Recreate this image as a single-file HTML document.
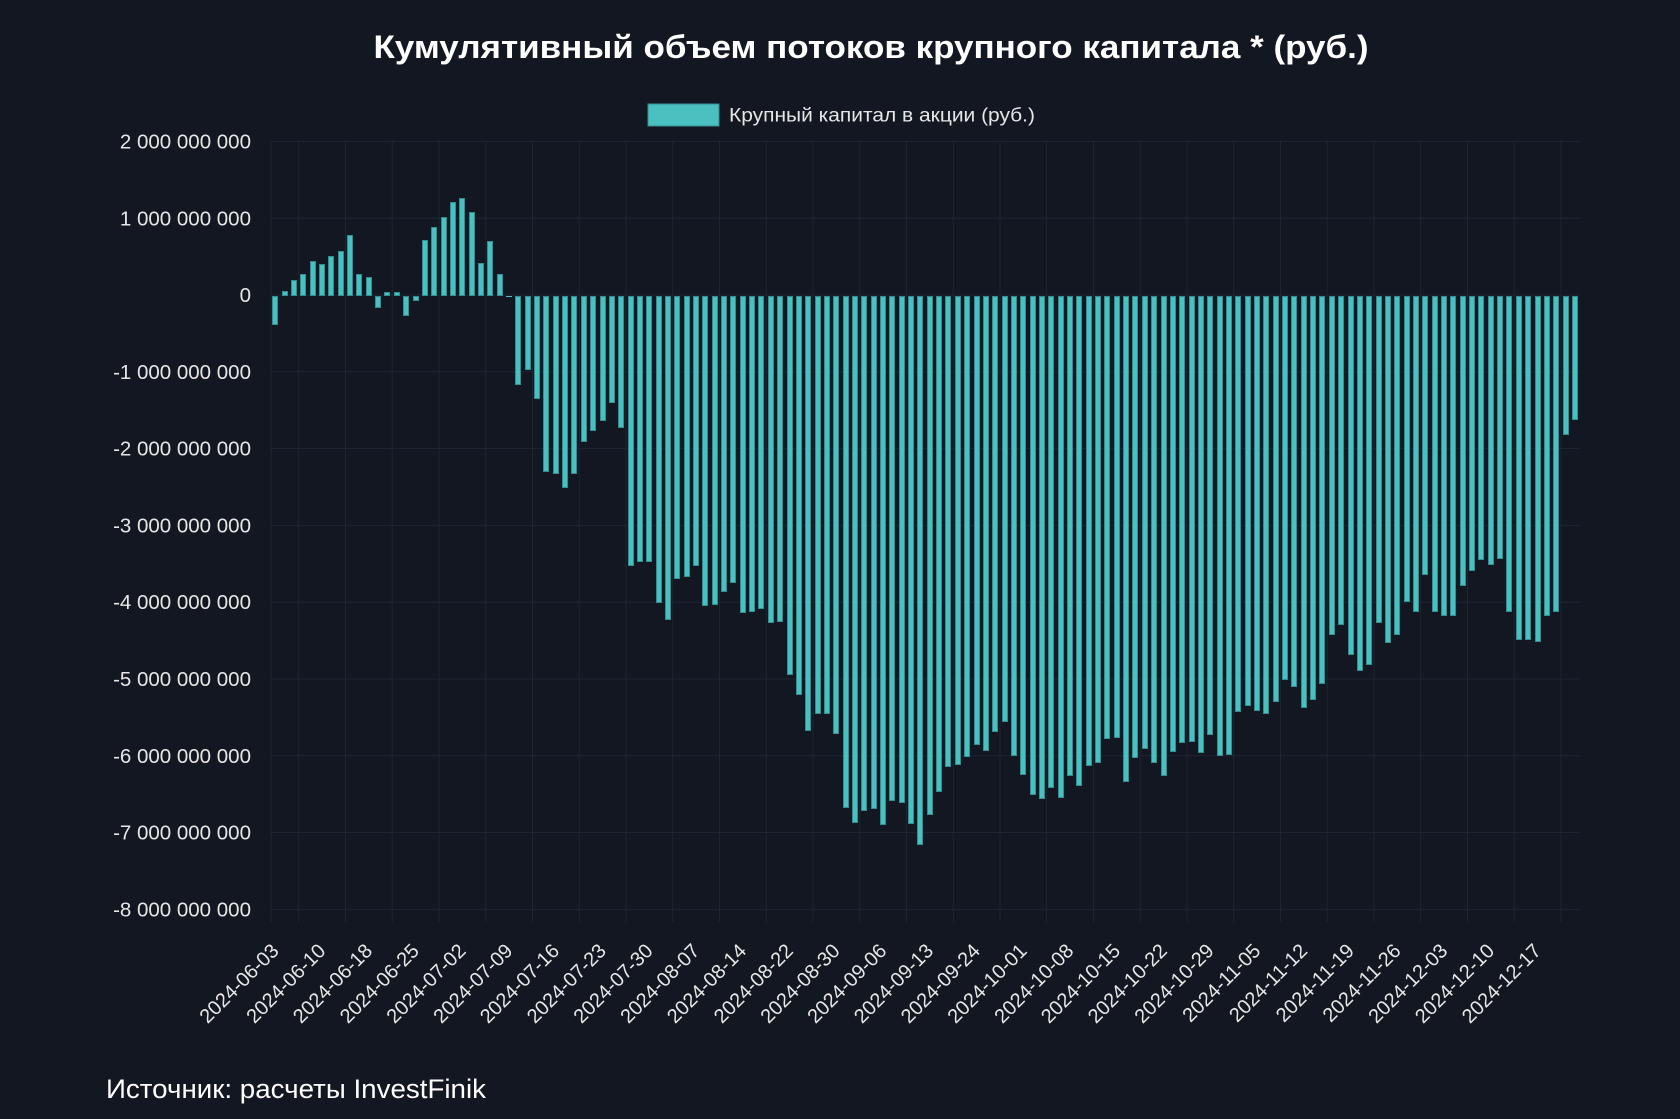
<!DOCTYPE html>
<html><head><meta charset="utf-8"><style>
html,body{margin:0;padding:0;background:#131722;}
#w{position:relative;width:1680px;height:1119px;overflow:hidden;background:#131722;font-family:"Liberation Sans",Arial,sans-serif;}
svg{position:absolute;left:0;top:0;}
#bars{position:absolute;left:270.63px;top:0;width:1309px;height:1119px;display:grid;grid-template-columns:repeat(140,1fr);}
#bars b{display:block;align-self:start;justify-self:center;width:6px;box-sizing:border-box;background:#4bc0c0;border:1px solid #2f8f90;}
</style></head><body><div id="w">
<svg width="1680" height="1119" xmlns="http://www.w3.org/2000/svg">
<g stroke="#1e2430" stroke-width="1">
<line x1="270" x2="1580" y1="141.4" y2="141.4"/><line x1="270" x2="1580" y1="218.2" y2="218.2"/><line x1="270" x2="1580" y1="295" y2="295"/><line x1="270" x2="1580" y1="371.8" y2="371.8"/><line x1="270" x2="1580" y1="448.6" y2="448.6"/><line x1="270" x2="1580" y1="525.4" y2="525.4"/><line x1="270" x2="1580" y1="602.2" y2="602.2"/><line x1="270" x2="1580" y1="679" y2="679"/><line x1="270" x2="1580" y1="755.8" y2="755.8"/><line x1="270" x2="1580" y1="832.6" y2="832.6"/><line x1="270" x2="1580" y1="909.4" y2="909.4"/>
<line x1="271" x2="271" y1="141" y2="922"/>
<line x1="298.7" x2="298.7" y1="141" y2="922"/><line x1="345.5" x2="345.5" y1="141" y2="922"/><line x1="392.2" x2="392.2" y1="141" y2="922"/><line x1="439" x2="439" y1="141" y2="922"/><line x1="485.7" x2="485.7" y1="141" y2="922"/><line x1="532.5" x2="532.5" y1="141" y2="922"/><line x1="579.2" x2="579.2" y1="141" y2="922"/><line x1="626" x2="626" y1="141" y2="922"/><line x1="672.7" x2="672.7" y1="141" y2="922"/><line x1="719.5" x2="719.5" y1="141" y2="922"/><line x1="766.2" x2="766.2" y1="141" y2="922"/><line x1="813" x2="813" y1="141" y2="922"/><line x1="859.7" x2="859.7" y1="141" y2="922"/><line x1="906.5" x2="906.5" y1="141" y2="922"/><line x1="953.2" x2="953.2" y1="141" y2="922"/><line x1="1000" x2="1000" y1="141" y2="922"/><line x1="1046.7" x2="1046.7" y1="141" y2="922"/><line x1="1093.5" x2="1093.5" y1="141" y2="922"/><line x1="1140.2" x2="1140.2" y1="141" y2="922"/><line x1="1187" x2="1187" y1="141" y2="922"/><line x1="1233.7" x2="1233.7" y1="141" y2="922"/><line x1="1280.5" x2="1280.5" y1="141" y2="922"/><line x1="1327.2" x2="1327.2" y1="141" y2="922"/><line x1="1374" x2="1374" y1="141" y2="922"/><line x1="1420.7" x2="1420.7" y1="141" y2="922"/><line x1="1467.5" x2="1467.5" y1="141" y2="922"/><line x1="1514.2" x2="1514.2" y1="141" y2="922"/><line x1="1561" x2="1561" y1="141" y2="922"/>
</g>
<text x="871" y="58" fill="#fff" font-size="32" font-weight="bold" text-anchor="middle" textLength="995" lengthAdjust="spacingAndGlyphs">Кумулятивный объем потоков крупного капитала * (руб.)</text>
<rect x="648" y="104" width="71" height="22" fill="#4bc0c0" stroke="#2f8f90" stroke-width="1"/>
<text x="729" y="121.5" fill="#e6e6e6" font-size="19" textLength="306" lengthAdjust="spacingAndGlyphs">Крупный капитал в акции (руб.)</text>
<g fill="#e6e6e6" font-size="20.5" text-anchor="end">
<text x="251" y="148.5">2 000 000 000</text><text x="251" y="225.3">1 000 000 000</text><text x="251" y="302">0</text><text x="251" y="378.8">-1 000 000 000</text><text x="251" y="455.6">-2 000 000 000</text><text x="251" y="532.4">-3 000 000 000</text><text x="251" y="609.2">-4 000 000 000</text><text x="251" y="686">-5 000 000 000</text><text x="251" y="762.8">-6 000 000 000</text><text x="251" y="839.6">-7 000 000 000</text><text x="251" y="916.4">-8 000 000 000</text>
</g>
<g fill="#e6e6e6" font-size="20" text-anchor="end">
<text transform="translate(280,952) rotate(-45)">2024-06-03</text>
<text transform="translate(326.8,952) rotate(-45)">2024-06-10</text>
<text transform="translate(373.5,952) rotate(-45)">2024-06-18</text>
<text transform="translate(420.3,952) rotate(-45)">2024-06-25</text>
<text transform="translate(467,952) rotate(-45)">2024-07-02</text>
<text transform="translate(513.8,952) rotate(-45)">2024-07-09</text>
<text transform="translate(560.5,952) rotate(-45)">2024-07-16</text>
<text transform="translate(607.3,952) rotate(-45)">2024-07-23</text>
<text transform="translate(654,952) rotate(-45)">2024-07-30</text>
<text transform="translate(700.8,952) rotate(-45)">2024-08-07</text>
<text transform="translate(747.5,952) rotate(-45)">2024-08-14</text>
<text transform="translate(794.3,952) rotate(-45)">2024-08-22</text>
<text transform="translate(841,952) rotate(-45)">2024-08-30</text>
<text transform="translate(887.8,952) rotate(-45)">2024-09-06</text>
<text transform="translate(934.5,952) rotate(-45)">2024-09-13</text>
<text transform="translate(981.3,952) rotate(-45)">2024-09-24</text>
<text transform="translate(1028,952) rotate(-45)">2024-10-01</text>
<text transform="translate(1074.8,952) rotate(-45)">2024-10-08</text>
<text transform="translate(1121.5,952) rotate(-45)">2024-10-15</text>
<text transform="translate(1168.3,952) rotate(-45)">2024-10-22</text>
<text transform="translate(1215,952) rotate(-45)">2024-10-29</text>
<text transform="translate(1261.8,952) rotate(-45)">2024-11-05</text>
<text transform="translate(1308.5,952) rotate(-45)">2024-11-12</text>
<text transform="translate(1355.3,952) rotate(-45)">2024-11-19</text>
<text transform="translate(1402,952) rotate(-45)">2024-11-26</text>
<text transform="translate(1448.8,952) rotate(-45)">2024-12-03</text>
<text transform="translate(1495.5,952) rotate(-45)">2024-12-10</text>
<text transform="translate(1542.3,952) rotate(-45)">2024-12-17</text>
</g>
<text x="106" y="1098" fill="#fff" font-size="27" textLength="380" lengthAdjust="spacingAndGlyphs">Источник: расчеты InvestFinik</text>
</svg>
<div id="bars">
<b style="margin-top:296px;height:29px"></b><b style="margin-top:291px;height:5px"></b><b style="margin-top:280px;height:16px"></b><b style="margin-top:274px;height:22px"></b><b style="margin-top:261px;height:35px"></b><b style="margin-top:264px;height:32px"></b><b style="margin-top:256px;height:40px"></b><b style="margin-top:251px;height:45px"></b><b style="margin-top:235px;height:61px"></b><b style="margin-top:274px;height:22px"></b>
<b style="margin-top:277px;height:19px"></b><b style="margin-top:296px;height:12px"></b><b style="margin-top:292px;height:4px"></b><b style="margin-top:292px;height:4px"></b><b style="margin-top:296px;height:20px"></b><b style="margin-top:296px;height:5px"></b><b style="margin-top:240px;height:56px"></b><b style="margin-top:227px;height:69px"></b><b style="margin-top:217px;height:79px"></b><b style="margin-top:202px;height:94px"></b>
<b style="margin-top:198px;height:98px"></b><b style="margin-top:212px;height:84px"></b><b style="margin-top:263px;height:33px"></b><b style="margin-top:241px;height:55px"></b><b style="margin-top:274px;height:22px"></b><b style="margin-top:296px;height:1px;border:0"></b><b style="margin-top:296px;height:89px"></b><b style="margin-top:296px;height:74px"></b><b style="margin-top:296px;height:103px"></b><b style="margin-top:296px;height:176px"></b>
<b style="margin-top:296px;height:178px"></b><b style="margin-top:296px;height:192px"></b><b style="margin-top:296px;height:178px"></b><b style="margin-top:296px;height:146px"></b><b style="margin-top:296px;height:135px"></b><b style="margin-top:296px;height:125px"></b><b style="margin-top:296px;height:107px"></b><b style="margin-top:296px;height:132px"></b><b style="margin-top:296px;height:270px"></b><b style="margin-top:296px;height:266px"></b>
<b style="margin-top:296px;height:266px"></b><b style="margin-top:296px;height:307px"></b><b style="margin-top:296px;height:324px"></b><b style="margin-top:296px;height:283px"></b><b style="margin-top:296px;height:281px"></b><b style="margin-top:296px;height:270px"></b><b style="margin-top:296px;height:310px"></b><b style="margin-top:296px;height:309px"></b><b style="margin-top:296px;height:296px"></b><b style="margin-top:296px;height:287px"></b>
<b style="margin-top:296px;height:317px"></b><b style="margin-top:296px;height:316px"></b><b style="margin-top:296px;height:313px"></b><b style="margin-top:296px;height:327px"></b><b style="margin-top:296px;height:326px"></b><b style="margin-top:296px;height:379px"></b><b style="margin-top:296px;height:399px"></b><b style="margin-top:296px;height:435px"></b><b style="margin-top:296px;height:418px"></b><b style="margin-top:296px;height:418px"></b>
<b style="margin-top:296px;height:438px"></b><b style="margin-top:296px;height:512px"></b><b style="margin-top:296px;height:527px"></b><b style="margin-top:296px;height:515px"></b><b style="margin-top:296px;height:513px"></b><b style="margin-top:296px;height:529px"></b><b style="margin-top:296px;height:505px"></b><b style="margin-top:296px;height:507px"></b><b style="margin-top:296px;height:528px"></b><b style="margin-top:296px;height:549px"></b>
<b style="margin-top:296px;height:519px"></b><b style="margin-top:296px;height:496px"></b><b style="margin-top:296px;height:471px"></b><b style="margin-top:296px;height:469px"></b><b style="margin-top:296px;height:461px"></b><b style="margin-top:296px;height:449px"></b><b style="margin-top:296px;height:455px"></b><b style="margin-top:296px;height:436px"></b><b style="margin-top:296px;height:426px"></b><b style="margin-top:296px;height:460px"></b>
<b style="margin-top:296px;height:479px"></b><b style="margin-top:296px;height:499px"></b><b style="margin-top:296px;height:503px"></b><b style="margin-top:296px;height:492px"></b><b style="margin-top:296px;height:502px"></b><b style="margin-top:296px;height:480px"></b><b style="margin-top:296px;height:490px"></b><b style="margin-top:296px;height:470px"></b><b style="margin-top:296px;height:467px"></b><b style="margin-top:296px;height:443px"></b>
<b style="margin-top:296px;height:442px"></b><b style="margin-top:296px;height:486px"></b><b style="margin-top:296px;height:462px"></b><b style="margin-top:296px;height:453px"></b><b style="margin-top:296px;height:467px"></b><b style="margin-top:296px;height:480px"></b><b style="margin-top:296px;height:456px"></b><b style="margin-top:296px;height:447px"></b><b style="margin-top:296px;height:446px"></b><b style="margin-top:296px;height:457px"></b>
<b style="margin-top:296px;height:439px"></b><b style="margin-top:296px;height:460px"></b><b style="margin-top:296px;height:459px"></b><b style="margin-top:296px;height:416px"></b><b style="margin-top:296px;height:410px"></b><b style="margin-top:296px;height:415px"></b><b style="margin-top:296px;height:418px"></b><b style="margin-top:296px;height:406px"></b><b style="margin-top:296px;height:384px"></b><b style="margin-top:296px;height:391px"></b>
<b style="margin-top:296px;height:412px"></b><b style="margin-top:296px;height:404px"></b><b style="margin-top:296px;height:388px"></b><b style="margin-top:296px;height:339px"></b><b style="margin-top:296px;height:329px"></b><b style="margin-top:296px;height:359px"></b><b style="margin-top:296px;height:375px"></b><b style="margin-top:296px;height:369px"></b><b style="margin-top:296px;height:327px"></b><b style="margin-top:296px;height:347px"></b>
<b style="margin-top:296px;height:339px"></b><b style="margin-top:296px;height:306px"></b><b style="margin-top:296px;height:316px"></b><b style="margin-top:296px;height:279px"></b><b style="margin-top:296px;height:316px"></b><b style="margin-top:296px;height:320px"></b><b style="margin-top:296px;height:320px"></b><b style="margin-top:296px;height:290px"></b><b style="margin-top:296px;height:275px"></b><b style="margin-top:296px;height:264px"></b>
<b style="margin-top:296px;height:269px"></b><b style="margin-top:296px;height:263px"></b><b style="margin-top:296px;height:316px"></b><b style="margin-top:296px;height:344px"></b><b style="margin-top:296px;height:344px"></b><b style="margin-top:296px;height:346px"></b><b style="margin-top:296px;height:320px"></b><b style="margin-top:296px;height:316px"></b><b style="margin-top:296px;height:139px"></b><b style="margin-top:296px;height:124px"></b>
</div>
</div></body></html>
